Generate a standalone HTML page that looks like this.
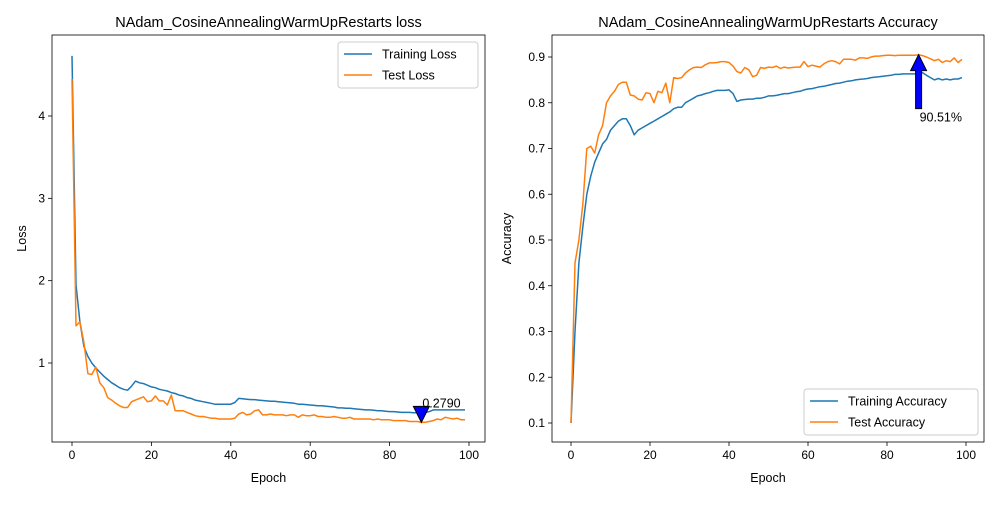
<!DOCTYPE html>
<html><head><meta charset="utf-8"><style>
body{margin:0;background:#fff}
svg{font-family:"Liberation Sans","DejaVu Sans",sans-serif}
</style></head><body>
<svg id="c" width="1000" height="500" xmlns="http://www.w3.org/2000/svg"></svg>
<script>
const epochs = Array.from({length:100},(_,i)=>i);
const trainLoss = [4.73,1.95,1.5,1.2,1.08,1.0,0.94,0.89,0.84,0.8,0.76,0.73,0.7,0.68,0.67,0.72,0.78,0.76,0.75,0.73,0.71,0.7,0.68,0.67,0.66,0.64,0.63,0.61,0.6,0.58,0.57,0.55,0.54,0.53,0.52,0.51,0.5,0.5,0.5,0.5,0.5,0.52,0.57,0.565,0.56,0.555,0.555,0.55,0.545,0.54,0.535,0.535,0.53,0.525,0.52,0.515,0.51,0.5,0.5,0.495,0.49,0.485,0.48,0.48,0.475,0.47,0.465,0.455,0.455,0.45,0.45,0.445,0.44,0.435,0.43,0.43,0.425,0.42,0.42,0.415,0.41,0.41,0.405,0.4,0.4,0.4,0.395,0.395,0.395,0.4,0.41,0.43,0.43,0.43,0.43,0.43,0.43,0.43,0.43,0.43];
const testLoss = [4.45,1.45,1.5,1.25,0.87,0.86,0.95,0.76,0.7,0.58,0.55,0.51,0.48,0.46,0.46,0.53,0.55,0.57,0.59,0.53,0.54,0.6,0.54,0.54,0.49,0.61,0.42,0.42,0.42,0.4,0.38,0.36,0.35,0.35,0.34,0.33,0.33,0.32,0.32,0.32,0.32,0.33,0.38,0.4,0.37,0.38,0.42,0.43,0.37,0.37,0.38,0.37,0.37,0.37,0.36,0.37,0.37,0.34,0.37,0.36,0.36,0.37,0.35,0.35,0.34,0.34,0.35,0.34,0.33,0.33,0.34,0.32,0.32,0.32,0.32,0.32,0.31,0.32,0.31,0.31,0.31,0.3,0.3,0.3,0.3,0.29,0.29,0.29,0.279,0.28,0.29,0.3,0.32,0.31,0.34,0.33,0.32,0.33,0.31,0.31];
const trainAcc = [0.1,0.3,0.45,0.53,0.6,0.64,0.67,0.69,0.71,0.72,0.74,0.75,0.76,0.765,0.765,0.75,0.73,0.74,0.745,0.75,0.755,0.76,0.765,0.77,0.775,0.78,0.787,0.79,0.79,0.8,0.805,0.81,0.815,0.817,0.82,0.822,0.825,0.827,0.827,0.827,0.828,0.82,0.803,0.806,0.807,0.808,0.808,0.81,0.81,0.812,0.815,0.815,0.816,0.818,0.82,0.82,0.822,0.824,0.825,0.828,0.83,0.831,0.833,0.835,0.836,0.838,0.84,0.842,0.843,0.845,0.847,0.848,0.85,0.851,0.852,0.853,0.855,0.856,0.857,0.858,0.859,0.86,0.862,0.862,0.863,0.863,0.863,0.863,0.864,0.866,0.86,0.855,0.85,0.853,0.85,0.852,0.85,0.852,0.852,0.855];
const testAcc = [0.1,0.45,0.5,0.58,0.7,0.705,0.69,0.73,0.75,0.8,0.815,0.825,0.84,0.845,0.845,0.817,0.815,0.808,0.806,0.822,0.82,0.8,0.825,0.822,0.843,0.8,0.855,0.853,0.855,0.865,0.872,0.877,0.878,0.877,0.883,0.887,0.887,0.888,0.89,0.89,0.888,0.88,0.868,0.865,0.877,0.872,0.857,0.86,0.877,0.875,0.878,0.877,0.88,0.875,0.878,0.876,0.877,0.878,0.878,0.89,0.879,0.882,0.88,0.878,0.885,0.89,0.892,0.89,0.885,0.895,0.895,0.895,0.893,0.898,0.898,0.897,0.9,0.902,0.902,0.903,0.904,0.904,0.903,0.904,0.904,0.904,0.904,0.904,0.9051,0.903,0.9,0.896,0.892,0.895,0.888,0.892,0.89,0.898,0.888,0.895];
const xTicks = [0,20,40,60,80,100];
const lossTicks = [1,2,3,4];
const accTicks = [0.1,0.2,0.3,0.4,0.5,0.6,0.7,0.8,0.9];

const svg = document.getElementById('c');
const NS = 'http://www.w3.org/2000/svg';
function mk(tag, attrs, parent){const e=document.createElementNS(NS,tag);for(const k in attrs)e.setAttribute(k,attrs[k]);(parent||svg).appendChild(e);return e;}

function panel(o){
  const g = mk('g',{});
  
  
  const xs = v => o.x0 + (v - 0) * (o.x100 - o.x0) / 100;
  const ys = v => o.ya + (v - o.va) * (o.yb - o.ya) / (o.vb - o.va);
  xTicks.forEach(t=>{
    const x = xs(t);
    mk('line',{x1:x,x2:x,y1:o.bottom,y2:o.bottom+4,stroke:'#000','stroke-width':0.8},g);
    const tx = mk('text',{x:x,y:o.bottom+17,'font-size':12,'text-anchor':'middle'},g);
    tx.textContent = t;
    
    
  });
  o.yTicks.forEach(t=>{
    const y = ys(t);
    mk('line',{x1:o.left-4,x2:o.left,y1:y,y2:y,stroke:'#000','stroke-width':0.8},g);
    const tx = mk('text',{x:o.left-7,y:y+4,'font-size':12,'text-anchor':'end'},g);
    tx.textContent = o.fmt(t);
    
    
  });
  o.series.forEach(s=>{
    const p = mk('polyline',{points:epochs.map((e,i)=>xs(e).toFixed(1)+','+ys(s.data[i]).toFixed(1)).join(' '),fill:'none',stroke:s.color,'stroke-width':1.5,'stroke-linejoin':'round'},g);
    
    
  });
  mk('rect',{x:o.left,y:35,width:o.right-o.left,height:o.bottom-35,fill:'none',stroke:'#000','stroke-width':0.8},g);
  const tt = mk('text',{x:(o.left+o.right)/2,y:27,'font-size':14.5,'text-anchor':'middle'},g);
  tt.textContent = o.title;
  
  
  const xl = mk('text',{x:(o.left+o.right)/2,y:482,'font-size':12.5,'text-anchor':'middle'},g);
  xl.textContent = 'Epoch';
  
  
  const yl = mk('text',{x:0,y:0,'font-size':12.5,'text-anchor':'middle',transform:`translate(${o.ylx},${(35+o.bottom)/2}) rotate(-90)`},g);
  yl.textContent = o.ylabel;
  
  
  const L = o.legend;
  const lg = mk('g',{},g);
  
  
  mk('rect',{x:L.x,y:L.y,width:L.w,height:46,rx:3,fill:'#fff','fill-opacity':0.8,stroke:'#ccc'},lg);
  o.series.forEach((s,i)=>{
    const y = L.y+12+i*21;
    mk('line',{x1:L.x+6,x2:L.x+34,y1:y,y2:y,stroke:s.color,'stroke-width':1.5},lg);
    const t = mk('text',{x:L.x+44,y:y+4.5,'font-size':12.5},lg);
    t.textContent = s.label;
    
    
  });
  return {g,xs,ys};
}

const A = panel({name:'loss-panel',left:52,right:485,bottom:442,x0:72,x100:469,ya:363,va:1,yb:116,vb:4,yTicks:lossTicks,fmt:t=>t,
  title:'NAdam_CosineAnnealingWarmUpRestarts loss',ylabel:'Loss',ylx:26,
  series:[{name:'training-loss-line',data:trainLoss,color:'#1f77b4',label:'Training Loss'},{name:'test-loss-line',data:testLoss,color:'#ff7f0e',label:'Test Loss'}],
  legend:{x:338,y:42,w:140}});
const B = panel({name:'accuracy-panel',left:552,right:984,bottom:442,x0:571,x100:966,ya:423,va:0.1,yb:57,vb:0.9,yTicks:accTicks,fmt:t=>t.toFixed(1),
  title:'NAdam_CosineAnnealingWarmUpRestarts Accuracy',ylabel:'Accuracy',ylx:511,
  series:[{name:'training-accuracy-line',data:trainAcc,color:'#1f77b4',label:'Training Accuracy'},{name:'test-accuracy-line',data:testAcc,color:'#ff7f0e',label:'Test Accuracy'}],
  legend:{x:804,y:389,w:174}});

let mi = 0; testLoss.forEach((v,i)=>{if(v<testLoss[mi])mi=i;});
const mx = A.xs(mi), my = A.ys(testLoss[mi]);
const tri = mk('polygon',{points:`${mx-8},${my-16} ${mx+8},${my-16} ${mx},${my}`,fill:'#0000ff',stroke:'#000','stroke-width':1});


const mt = mk('text',{x:mx+1,y:my-15,'font-size':12.5});
mt.textContent = testLoss[mi].toFixed(4);



let ma = 0; testAcc.forEach((v,i)=>{if(v>testAcc[ma])ma=i;});
const ax = B.xs(ma), ay = B.ys(testAcc[ma]);
const arr = mk('polygon',{points:`${ax-3},${ay+54} ${ax-3},${ay+16} ${ax-8},${ay+16} ${ax},${ay} ${ax+8},${ay+16} ${ax+3},${ay+16} ${ax+3},${ay+54}`,fill:'#0000ff',stroke:'#000','stroke-width':1});


const at = mk('text',{x:ax+1,y:ay+67,'font-size':12.5});
at.textContent = (testAcc[ma]*100).toFixed(2)+'%';


</script>
</body></html>
